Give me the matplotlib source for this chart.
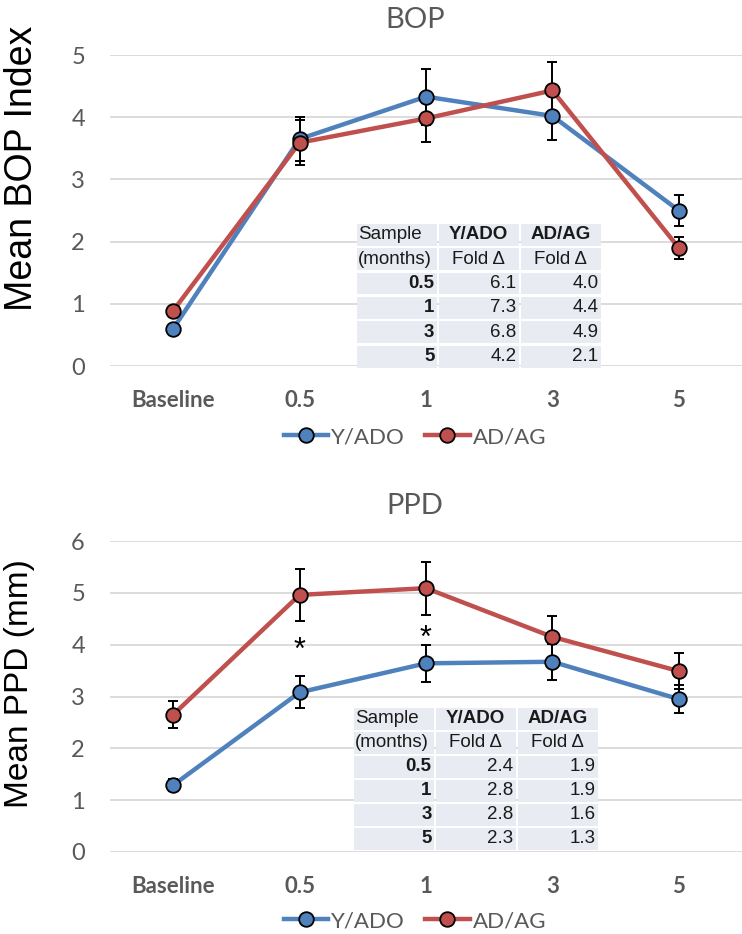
import matplotlib
matplotlib.use('Agg')
import matplotlib.pyplot as plt
from matplotlib.patches import Rectangle

# ---- data ----
categories = ['Baseline', '0.5', '1', '3', '5']

bop_yado = [0.60, 3.65, 4.33, 4.02, 2.50]
bop_yado_err = [0.04, 0.35, 0.45, 0.38, 0.25]
bop_adag = [0.89, 3.59, 3.98, 4.43, 1.90]
bop_adag_err = [0.04, 0.36, 0.38, 0.45, 0.18]

ppd_yado = [1.29, 3.08, 3.64, 3.67, 2.95]
ppd_yado_err = [0.12, 0.31, 0.36, 0.35, 0.27]
ppd_adag = [2.65, 4.96, 5.09, 4.15, 3.49]
ppd_adag_err = [0.26, 0.50, 0.51, 0.41, 0.35]

# significance marks (category index, y)
ppd_star_x = [1, 2]
ppd_star_y = [3.88, 4.12]

table_head1 = ['Sample', 'Y/ADO', 'AD/AG']
table_head2 = ['(months)', 'Fold \u0394', 'Fold \u0394']
table_months = ['0.5', '1', '3', '5']
bop_fold_yado = ['6.1', '7.3', '6.8', '4.2']
bop_fold_adag = ['4.0', '4.4', '4.9', '2.1']
ppd_fold_yado = ['2.4', '2.8', '2.8', '2.3']
ppd_fold_adag = ['1.9', '1.9', '1.6', '1.3']

BLUE = '#4F81BD'
RED = '#C0504D'
GRAY = '#595959'
GRID = '#D9D9D9'
CELL = '#E8ECF2'
TICKFONT = 'Lato'
TABFONT = 'Liberation Sans'

W, H = 742, 934
fig = plt.figure(figsize=(W / 100, H / 100), dpi=100)


def px_axes(x0, y0, x1, y1):
    # pixel box (top-left origin) -> figure axes
    return fig.add_axes([x0 / W, 1 - y1 / H, (x1 - x0) / W, (y1 - y0) / H])


def panel(ax, yado, yado_err, adag, adag_err, ymax):
    x = range(len(categories))
    for vals, err, col in [(yado, yado_err, BLUE), (adag, adag_err, RED)]:
        ax.plot(x, vals, color=col, lw=3.2, zorder=3)
        ax.errorbar(x, vals, yerr=err, fmt='none', ecolor='black', elinewidth=1.4,
                    capsize=3.8, capthick=1.4, zorder=4)
        ax.plot(x, vals, 'o', color=col, ms=10.5, mec='black', mew=1.3, zorder=5)
    ax.set_xlim(-0.5, len(categories) - 0.5)
    ax.set_ylim(0, ymax)
    ax.set_yticks(range(ymax + 1))
    ax.yaxis.grid(True, color=GRID, lw=1.3)
    ax.set_axisbelow(True)
    for s in ax.spines.values():
        s.set_visible(False)
    ax.tick_params(length=0)
    ax.tick_params(axis='y', pad=18, labelsize=17, labelcolor=GRAY)
    ax.tick_params(axis='x', pad=17, labelsize=16, labelcolor=GRAY)
    ax.set_xticks(list(x))
    ax.set_xticklabels(categories, fontweight='bold', family=TICKFONT)
    for t in ax.get_yticklabels():
        t.set_family(TICKFONT)


def draw_table(x0, y0, x1, y1, col_a, col_b):
    tax = px_axes(x0, y0, x1, y1)
    w, h = x1 - x0, y1 - y0
    tax.set_xlim(0, w)
    tax.set_ylim(h, 0)
    tax.axis('off')
    tax.set_zorder(6)
    rows = [table_head1, table_head2] + [[m, a, b] for m, a, b in zip(table_months, col_a, col_b)]
    rh = h / len(rows)
    cw = w / 3
    gap = 2.5
    for i, row in enumerate(rows):
        for j, txt in enumerate(row):
            cx0 = j * cw
            tax.add_patch(Rectangle((cx0, i * rh), cw - gap, rh - gap, facecolor=CELL,
                                    edgecolor='none'))
            yc = i * rh + (rh - gap) / 2
            if i < 2:
                if j == 0:
                    xp, ha = cx0 + 1, 'left'
                else:
                    xp, ha = cx0 + (cw - gap) / 2, 'center'
                fw = 'bold' if (i == 0 and j > 0) else 'normal'
            else:
                xp, ha = cx0 + cw - gap - 2, 'right'
                fw = 'bold' if j == 0 else 'normal'
            tax.text(xp, yc, txt, ha=ha, va='center', fontsize=13.5, fontweight=fw,
                     family=TABFONT, color='#1a1a1a')


# ---- BOP ----
ax1 = px_axes(110, 55, 742, 366)
panel(ax1, bop_yado, bop_yado_err, bop_adag, bop_adag_err, 5)
draw_table(357, 224, 603, 370, bop_fold_yado, bop_fold_adag)
fig.text(415 / W, 1 - 20 / H, 'BOP', ha='center', va='center', fontsize=21,
         color=GRAY, family=TICKFONT)
fig.text(22 / W, 1 - 168 / H, 'Mean BOP Index', rotation=90, ha='center', va='center',
         fontsize=27, family=TABFONT)

# ---- PPD ----
ax2 = px_axes(110, 541, 742, 852)
panel(ax2, ppd_yado, ppd_yado_err, ppd_adag, ppd_adag_err, 6)
draw_table(354, 708, 600, 852, ppd_fold_yado, ppd_fold_adag)
for sx, sy in zip(ppd_star_x, ppd_star_y):
    ax2.text(sx, sy, '*', ha='center', va='center', fontsize=22, family=TABFONT, zorder=6)
fig.text(415 / W, 1 - 506 / H, 'PPD', ha='center', va='center', fontsize=21,
         color=GRAY, family=TICKFONT)
fig.text(20 / W, 1 - 684 / H, 'Mean PPD (mm)', rotation=90, ha='center', va='center',
         fontsize=24, family=TABFONT)

# legends
for ly in (437, 921):
    handles = [plt.Line2D([], [], color=c, lw=3.2, marker='o', ms=10.5, mec='black', mew=1.3)
               for c in (BLUE, RED)]
    leg = fig.legend(handles, ['Y/ADO', 'AD/AG'], loc='center', ncol=2, frameon=False,
                     bbox_to_anchor=(415 / W, 1 - ly / H), handlelength=2.0,
                     handletextpad=0.15, columnspacing=0.9,
                     prop={'family': TICKFONT, 'size': 16})
    for t in leg.get_texts():
        t.set_color(GRAY)

fig.savefig('out.png', dpi=100)
